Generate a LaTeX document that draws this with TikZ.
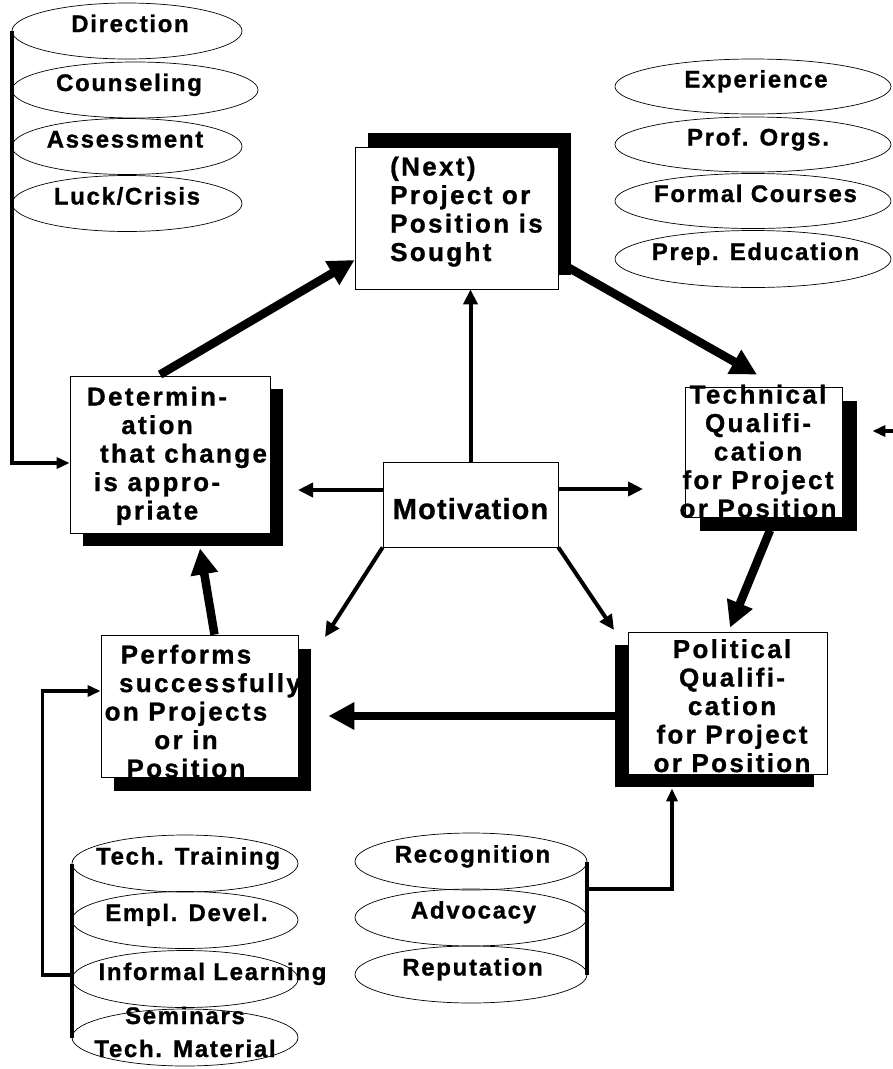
\documentclass[tikz,border=0pt]{standalone}
\usepackage{fontspec}
\newfontfamily\lblfont{Liberation Sans}[LetterSpace=7,FakeBold=1]
\usetikzlibrary{arrows.meta,shapes.geometric,shadows,calc}

% text centred on an oval, overflowing it freely; #1 = twice the sideways offset
\newcommand\ovtxt[2][0pt]{\smash{\makebox[0pt]{\hspace*{#1}\raisebox{-1pt}{#2}}}}

\begin{document}
\begin{tikzpicture}[x=1pt,y=-1pt,
  oval/.style={ellipse, draw, line width=0.7pt, inner sep=0pt, minimum height=56pt,
    font=\lblfont\bfseries\fontsize{24}{28}\selectfont},
  pbox/.style={draw, line width=0.8pt, fill=white, inner sep=0pt},
  shadowed/.style 2 args={general shadow={fill=black, shadow xshift=#1, shadow yshift=#2}},
  boxtext/.style={inner sep=0pt, align=center, anchor=north,
    font=\lblfont\bfseries\fontsize{26}{28.5}\selectfont\addfontfeature{LetterSpace=9}},
  thick arrow/.style={line width=8.5pt, -{Triangle[length=26pt,width=26pt]}},
  spoke/.style={line width=4pt, -{Triangle[length=15pt,width=14pt]}},
  feed/.style={line width=3.5pt, -{Triangle[length=13pt,width=11pt]}},
  stackline/.style={line width=4pt},
]
\fill[white] (0,0) rectangle (893,1069);
\useasboundingbox (0,0) rectangle (893,1069);

% ---- influence stacks ----
\node[oval, minimum width=230pt] (tl1) at (127,31)    {\ovtxt[6pt]{Direction}};
\node[oval, minimum width=246pt] (tl2) at (135,90)    {\ovtxt[-12pt]{Counseling}};
\node[oval, minimum width=230pt] (tl3) at (127,146.5) {\ovtxt[-4pt]{Assessment}};
\node[oval, minimum width=230pt] (tl4) at (127,203.5) {\ovtxt{Luck/Crisis}};

\node[oval, minimum width=276pt, minimum height=55pt] (tr1) at (753,86.5) {\ovtxt[6pt]{Experience}};
\node[oval, minimum width=276pt, minimum height=55pt] (tr2) at (753,144.5) {\ovtxt[10pt]{Prof. Orgs.}};
\node[oval, minimum width=276pt, minimum height=55pt] (tr3) at (753,201) {\ovtxt[5pt]{Formal Courses}};
\node[oval, minimum width=276pt, minimum height=57pt] (tr4) at (753,259) {\ovtxt[5pt]{Prep. Education}};

\node[oval, minimum width=226pt, minimum height=57pt] (bl1) at (185,863.5) {\ovtxt[6pt]{Tech. Training}};
\node[oval, minimum width=226pt, minimum height=57pt] (bl2) at (185,920) {\ovtxt[3pt]{Empl. Devel.}};
\node[oval, minimum width=226pt, minimum height=57pt] (bl3) at (185,979) {\ovtxt[55pt]{Informal Learning}};
\node[oval, minimum width=226pt, minimum height=57pt] (bl4) at (185,1037.5)
  {\smash{\makebox[0pt]{\raisebox{13.5pt}{Seminars}}\makebox[0pt]{\raisebox{-19.5pt}{Tech. Material}}}};

\node[oval, minimum width=232pt, minimum height=57pt] (bm1) at (471,861.5) {\ovtxt[3pt]{Recognition}};
\node[oval, minimum width=232pt, minimum height=57pt] (bm2) at (471,917.5) {\ovtxt[5pt]{Advocacy}};
\node[oval, minimum width=232pt, minimum height=57pt] (bm3) at (471,974.5) {\ovtxt[3pt]{Reputation}};

% ---- stages of the cycle ----
\node[pbox, shadowed={13pt}{14pt}, minimum width=203pt, minimum height=142pt] (next) at (456.5,218) {};
\node[pbox, shadowed={13pt}{-12.5pt}, minimum width=200pt, minimum height=157pt] (det) at (170,454.5) {};
\node[pbox, shadowed={14.5pt}{-13.5pt}, minimum width=157pt, minimum height=130pt] (tech) at (763.5,452) {};
\node[pbox, shadowed={12.5pt}{-13.5pt}, minimum width=197pt, minimum height=142pt] (perf) at (199.5,706) {};
\node[pbox, shadowed={-13pt}{-13pt}, minimum width=199pt, minimum height=142pt] (pol) at (727.5,703) {};
\node[pbox, minimum width=175pt, minimum height=85pt, text height=29pt, text depth=0pt,
  font=\lblfont\bfseries\fontsize{29}{34}\selectfont\addfontfeature{LetterSpace=4}] (mot) at (470.5,504.5) {Motivation};

\node[boxtext, anchor=north west, align=left] (next-l) at (390,156.5)
  {(Next)\\Project or\\Position is\\Sought};
\node[boxtext] (det-l) at (157,386.5)
  {Determin-\\ation\\\hspace*{53pt}that change\\is appro-\hspace*{12pt}\\priate};
\node[boxtext] (tech-l) at (758,384.5)
  {Technical\\Qualifi-\\cation\\for Project\\or Position};
\node[boxtext] (perf-l) at (186,644.5)
  {Performs\\\hspace*{48pt}successfully\\on Projects\\or in\\Position};
\node[boxtext] (pol-l) at (732,639)
  {Political\\Qualifi-\\cation\\for Project\\or Position};

% ---- main cycle ----
\draw[thick arrow] ($(det.north)+(-10,-1)$) -- ($(next.west)+(0,42)$);
\draw[thick arrow] ($(next.east)+(9,49)$) -- ($(tech.north)+(-6.5,-12)$);
\draw[thick arrow] ($(tech.south)+(6.5,13)$) -- ($(pol.north)+(2.5,-4)$);
\draw[thick arrow] ($(pol.west)+(-13,13)$) -- ($(perf.east)+(30,10)$);
\draw[thick arrow] ($(perf.north)+(15,0)$) -- ($(det.south)+(30,15)$);

% ---- motivation spokes ----
\coordinate (mL) at (298,490);
\coordinate (mR) at (643,489);
\coordinate (mDL) at (325,637);
\coordinate (mDR) at (614,630);
\draw[spoke] (mot.north) -- (mot.north |- next.south);
\draw[spoke] (mot.west |- mL) -- (mL);
\draw[spoke] (mot.east |- mR) -- (mR);
\draw[spoke] (mot.south west) -- (mDL);
\draw[spoke] (mot.south east) -- (mDR);

% ---- feeds from the stacks ----
\draw[feed, line width=4pt] (tl1.west) |- ($(det.west)+(0,8.5)$);
\draw[stackline] (bl1.west) -- (bl4.west);
\draw[feed] ($(bl3.west)+(0,-4)$) -- ++(-29,0) |- ($(perf.west)+(0,-15)$);
\draw[stackline] (bm1.east) -- (bm3.east);
\draw[feed] ($(bm1.east)+(0,27.5)$) -| ($(pol.south)+(-55.5,14)$);
\coordinate (redge) at (893,431);
\draw[feed] (redge) -- ($(tech.east)+(30,-21)$);
\end{tikzpicture}
\end{document}
